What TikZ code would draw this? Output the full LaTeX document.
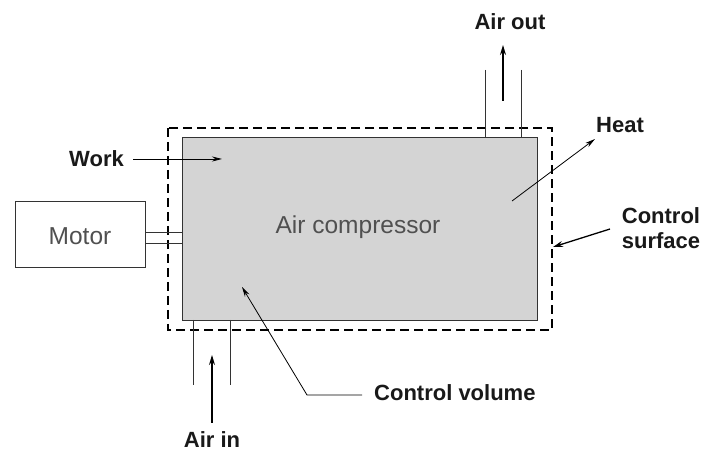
\documentclass[tikz,border=0pt]{standalone}
\usepackage{fontspec}
\setmainfont{Liberation Sans}
\usetikzlibrary{arrows.meta}
\definecolor{cvfill}{RGB}{212,212,212}
\definecolor{greytxt}{RGB}{80,80,80}
\begin{document}
\begin{tikzpicture}[x=1pt,y=-1pt,
  lbl/.style={font=\fontsize{22}{24}\selectfont\bfseries, inner sep=0pt, text=black!90},
  glbl/.style={font=\fontsize{24.5}{26}\selectfont, inner sep=0pt, text=greytxt},
  thin line/.style={line width=0.8pt, draw=black!80},
  arr/.style={line width=1.3pt, -{Stealth[length=10pt,width=6pt]}},
  sarr/.style={line width=0.8pt, -{Stealth[length=10pt,width=5pt]}},
  cs/.style={line width=1.6pt, dash pattern=on 9pt off 5pt}]
\useasboundingbox (0,0) rectangle (705,454);
\fill[white] (0,0) rectangle (705,454);
% control surface
\draw[cs] (168,128) rectangle (552,330);
% compressor
\draw[thin line, fill=cvfill] (182,137) rectangle (537,320);
\node[glbl] (comp) at (358,227) {Air compressor};
% motor
\draw[thin line] (15,201) rectangle (145,267);
\node[glbl] (motor) at (80,236) {Motor};
\draw[thin line] (145,232) -- (182,232);
\draw[thin line] (145,243) -- (182,243);
% work
\node[lbl, anchor=east] (work) at (124,159) {Work};
\coordinate (workend) at (222,159);
\draw[sarr] (work.east) ++(9,0) -- (workend);
% air out
\draw[thin line] (485,70) -- (485,137);
\draw[thin line] (521,70) -- (521,137);
\node[lbl] (airout) at (510,22) {Air out};
\coordinate (aoS) at (503,101);
\coordinate (aoE) at (503,45);
\draw[arr] (aoS) -- (aoE);
% heat
\node[lbl] (heat) at (620,125) {Heat};
\coordinate (hS) at (512,201);
\coordinate (hE) at (595,139);
\draw[sarr] (hS) -- (hE);
% control surface label
\node[lbl, align=center, font=\fontsize{22}{25}\selectfont\bfseries] (cslbl) at (661,228) {Control\\surface};
\coordinate (csS) at (610,229);
\coordinate (csE) at (553,247);
\draw[arr] (csS) -- (csE);
% air in
\draw[thin line] (193,320) -- (193,385);
\draw[thin line] (230,320) -- (230,385);
\node[lbl] (airin) at (212,440) {Air in};
\coordinate (aiS) at (212,423);
\coordinate (aiE) at (212,355);
\draw[arr] (aiS) -- (aiE);
% control volume
\node[lbl, anchor=west] (cv) at (374,393) {Control volume};
\coordinate (cvK) at (307,395);
\coordinate (cvE) at (242,287);
\draw[sarr] (cv.west) ++(-12,2) -- (cvK) -- (cvE);
\end{tikzpicture}
\end{document}
